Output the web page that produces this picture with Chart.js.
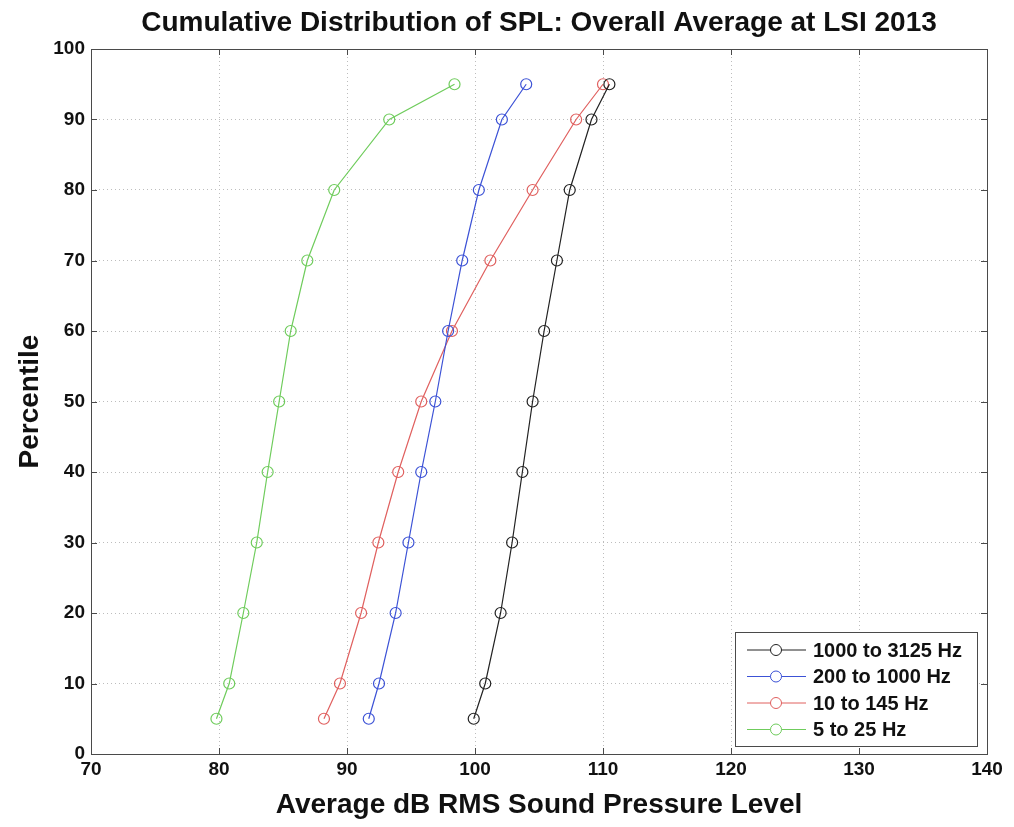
<!DOCTYPE html>
<html>
<head>
<meta charset="utf-8">
<script src="https://cdn.jsdelivr.net/npm/chart.js@4/dist/chart.umd.min.js"></script>
<style>
  body { margin: 0; background: #fff; }
  #wrap { width: 1014px; height: 827px; position: relative; }
</style>
</head>
<body>
<div id="wrap"><canvas id="splChart"></canvas></div>
<script>
const chartTitle = 'Cumulative Distribution of SPL: Overall Average at LSI 2013';
const percentiles = [5, 10, 20, 30, 40, 50, 60, 70, 80, 90, 95];
const seriesLabels = ['1000 to 3125 Hz', '200 to 1000 Hz', '10 to 145 Hz', '5 to 25 Hz'];
const spl1000to3125 = [99.9, 100.8, 102.0, 102.9, 103.7, 104.5, 105.4, 106.4, 107.4, 109.1, 110.5];
const spl200to1000 = [91.7, 92.5, 93.8, 94.8, 95.8, 96.9, 97.9, 99.0, 100.3, 102.1, 104.0];
const spl10to145 = [88.2, 89.45, 91.1, 92.45, 94.0, 95.8, 98.2, 101.2, 104.5, 107.9, 110.0];
const spl5to25 = [79.8, 80.8, 81.9, 82.95, 83.8, 84.7, 85.6, 86.9, 89.0, 93.3, 98.4];
const seriesColors = ['#222222', '#3c52d6', '#e0605f', '#6fcc5c'];

function toPoints(values) {
    return values.map((v, i) => ({ x: v, y: percentiles[i] }));
}

const FONT = '"Liberation Sans", Arial, Helvetica, sans-serif';

// box round the axes with inward ticks, title, legend in the lower right
const matlabLook = {
    id: 'matlabLook',
    afterDraw(chart) {
        const ctx = chart.ctx;
        const area = chart.chartArea;
        const xs = chart.scales.x;
        const ys = chart.scales.y;
        ctx.save();
        ctx.strokeStyle = '#4a4a4a';
        ctx.lineWidth = 1;
        ctx.strokeRect(area.left + 0.5, area.top + 0.5, area.right - area.left, area.bottom - area.top);
        ctx.beginPath();
        xs.ticks.forEach(t => {
            const px = Math.round(xs.getPixelForValue(t.value)) + 0.5;
            ctx.moveTo(px, area.bottom); ctx.lineTo(px, area.bottom - 6);
            ctx.moveTo(px, area.top); ctx.lineTo(px, area.top + 6);
        });
        ys.ticks.forEach(t => {
            const py = Math.round(ys.getPixelForValue(t.value)) + 0.5;
            ctx.moveTo(area.left, py); ctx.lineTo(area.left + 6, py);
            ctx.moveTo(area.right, py); ctx.lineTo(area.right - 6, py);
        });
        ctx.stroke();

        // title
        ctx.fillStyle = '#111';
        ctx.font = 'bold 28px ' + FONT;
        ctx.textAlign = 'center';
        ctx.textBaseline = 'middle';
        ctx.fillText(chartTitle, (area.left + area.right) / 2, 23);

        // legend
        const w = 242, h = 114;
        const lx = area.right - 10 - w;
        const ly = area.bottom - 8 - h;
        ctx.fillStyle = '#fff';
        ctx.fillRect(lx, ly, w, h);
        ctx.strokeStyle = '#4a4a4a';
        ctx.strokeRect(lx + 0.5, ly + 0.5, w, h);
        ctx.font = 'bold 20px ' + FONT;
        ctx.textAlign = 'left';
        chart.data.datasets.forEach((ds, i) => {
            const rowY = ly + 18 + i * 26.5;
            ctx.strokeStyle = ds.borderColor;
            ctx.lineWidth = 1;
            ctx.beginPath();
            ctx.moveTo(lx + 12, rowY); ctx.lineTo(lx + 71, rowY);
            ctx.stroke();
            ctx.beginPath();
            ctx.arc(lx + 41, rowY, 5.5, 0, Math.PI * 2);
            ctx.fillStyle = '#fff';
            ctx.fill();
            ctx.stroke();
            ctx.fillStyle = '#111';
            ctx.fillText(ds.label, lx + 78, rowY + 1);
        });
        ctx.restore();
    }
};

const datasets = [spl1000to3125, spl200to1000, spl10to145, spl5to25].map((vals, i) => ({
    label: seriesLabels[i],
    data: toPoints(vals),
    showLine: true,
    borderColor: seriesColors[i],
    backgroundColor: 'rgba(0,0,0,0)',
    borderWidth: 1.2,
    pointStyle: 'circle',
    pointRadius: 5.5,
    pointBorderWidth: 1.2,
    pointBorderColor: seriesColors[i],
    pointBackgroundColor: 'rgba(0,0,0,0)'
}));

const ctx = document.getElementById('splChart').getContext('2d');
new Chart(ctx, {
    type: 'scatter',
    data: { datasets: datasets },
    options: {
        responsive: true,
        maintainAspectRatio: false,
        animation: false,
        layout: { padding: { top: 49, right: 27, left: 0, bottom: 0 } },
        plugins: {
            legend: { display: false },
            title: { display: false },
            tooltip: { enabled: false }
        },
        scales: {
            x: {
                type: 'linear',
                min: 70,
                max: 140,
                afterFit: s => { s.height = 73; },
                ticks: {
                    stepSize: 10,
                    color: '#111',
                    padding: 4,
                    font: { family: FONT, size: 19, weight: 'bold' }
                },
                grid: { color: '#bdbdbd', lineWidth: 1, drawTicks: false },
                border: { display: false, dash: [1, 3] },
                title: {
                    display: true,
                    text: 'Average dB RMS Sound Pressure Level',
                    color: '#111',
                    font: { family: FONT, size: 28, weight: 'bold' },
                    padding: { top: 0, bottom: 5 }
                }
            },
            y: {
                type: 'linear',
                min: 0,
                max: 100,
                afterFit: s => { s.width = 91; },
                ticks: {
                    stepSize: 10,
                    color: '#111',
                    padding: 6,
                    font: { family: FONT, size: 19, weight: 'bold' }
                },
                grid: { color: '#bdbdbd', lineWidth: 1, drawTicks: false },
                border: { display: false, dash: [1, 3] },
                title: {
                    display: true,
                    text: 'Percentile',
                    color: '#111',
                    font: { family: FONT, size: 28, weight: 'bold' },
                    padding: { top: 13, bottom: 0 }
                }
            }
        }
    },
    plugins: [matlabLook]
});
</script>
</body>
</html>
